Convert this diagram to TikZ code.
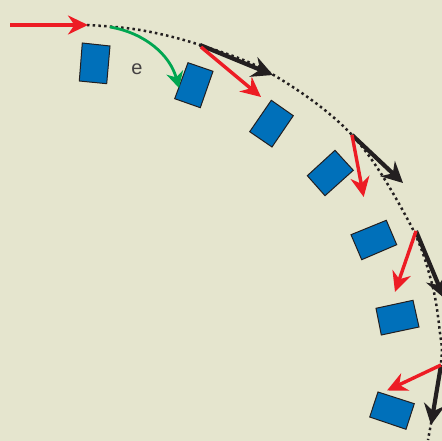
\documentclass[tikz,border=0pt]{standalone}
\usepackage{fontspec}
\setmainfont{Liberation Sans}
\usetikzlibrary{arrows.meta}
\definecolor{bgc}{HTML}{E5E5CE}
\definecolor{bluec}{HTML}{0070BA}
\definecolor{redc}{HTML}{ED1C24}
\definecolor{greenc}{HTML}{00A651}
\definecolor{blackc}{HTML}{231F20}
\tikzset{
  pad/.style={draw=blackc,fill=bluec,line width=1pt,line join=miter},
  redarrow/.style={draw=redc,line width=3.4pt,-{Stealth[length=20pt,width=19pt,inset=6.5pt,color=redc]}},
  blackarrow/.style={draw=blackc,line width=4.2pt,-{Stealth[length=21pt,width=21pt,inset=7pt,color=blackc]}},
  greenarrow/.style={draw=greenc,line width=2.8pt,-{Stealth[length=16pt,width=17pt,inset=5pt,color=greenc]}},
  pathdots/.style={draw=blackc,line width=2.5pt,dash pattern=on 2.5pt off 3.2pt},
}
\begin{document}
\begin{tikzpicture}[x=1pt,y=-1pt]
\fill[bgc] (0,0) rectangle (442,441);
\useasboundingbox (0,0) rectangle (442,441);
\begin{scope}
\clip (0,0) rectangle (442,441);
% named points on the trajectory
\coordinate (s) at (10,25);
\coordinate (p0) at (88,25);
\coordinate (g0) at (110,27);
\coordinate (g1) at (179,88);
\coordinate (p1) at (200,45);
\coordinate (p2) at (352,135);
\coordinate (p3) at (416,231);
\coordinate (p4) at (441,365);
\coordinate (b1) at (273,75);
\coordinate (b2) at (403,183);
\coordinate (b3) at (444,298);
\coordinate (b4) at (431,425);
\coordinate (r1) at (261,97);
\coordinate (r2) at (363.7,197);
\coordinate (r3) at (395,292);
\coordinate (r4) at (387,390.5);
% dotted path
\draw[pathdots] plot[smooth,tension=0.6] coordinates {(87,25) (140,30) (200,45) (272,74) (352,135) (408,220) (431,280) (440,333) (441,363) (428,440)};
% pads
\draw[pad] (82.3,43) -- (110,46) -- (106.7,83.7) -- (79.3,81) -- cycle;
\draw[pad] (188,62.7) -- (213,71.3) -- (200.3,107.7) -- (174.7,98.7) -- cycle;
\draw[pad] (271.3,100.3) -- (293.3,115.7) -- (272,147) -- (249.7,131.7) -- cycle;
\draw[pad] (335,150.3) -- (353.3,170.3) -- (325,195.7) -- (307.3,175.7) -- cycle;
\draw[pad] (386.3,220.3) -- (396.7,244.7) -- (361.7,259.7) -- (351,234.7) -- cycle;
\draw[pad] (413,300.3) -- (419,327) -- (381.3,335) -- (376,308.3) -- cycle;
\draw[pad] (378,392) -- (414.3,403.7) -- (406,429.3) -- (369.7,417) -- cycle;
% connectors
\draw[blackarrow] (p1) -- (b1);
\draw[blackarrow] (p2) -- (b2);
\draw[blackarrow] (p3) -- (b3);
\draw[blackarrow] (p4) -- (b4);
\draw[redarrow] (s) -- (p0);
\draw[redarrow] (201,47) -- (r1);
\draw[redarrow] (p2) -- (r2);
\draw[redarrow] (p3) -- (r3);
\draw[redarrow] (p4) -- (r4);
\draw[greenarrow] (g0) .. controls (145,33) and (170,55) .. (g1);
\end{scope}
\node[text=blackc!85,font=\fontsize{20}{22}\selectfont,inner sep=0pt] (e) at (137,69) {e};
\end{tikzpicture}
\end{document}
